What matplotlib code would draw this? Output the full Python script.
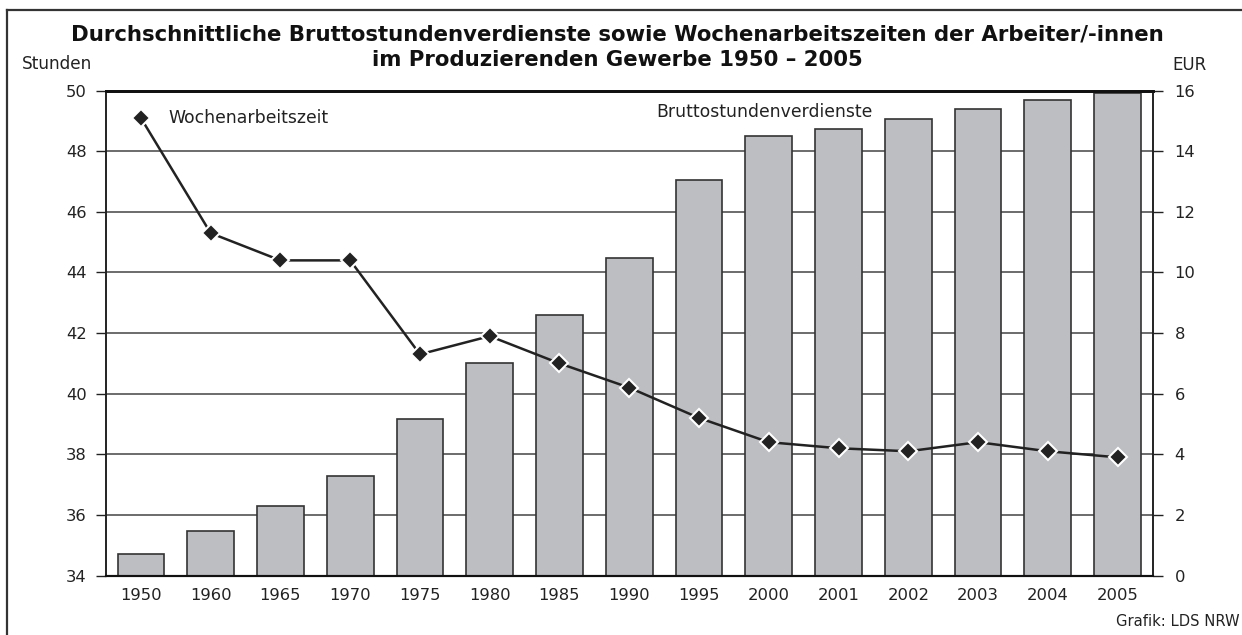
import matplotlib
matplotlib.use("Agg")
import matplotlib.pyplot as plt
from matplotlib.lines import Line2D

plt.rcParams['font.family'] = ['DejaVu Sans']

# Data
years = ['1950', '1960', '1965', '1970', '1975', '1980', '1985', '1990',
         '1995', '2000', '2001', '2002', '2003', '2004', '2005']
verdienst_eur = [0.72, 1.47, 2.31, 3.29, 5.18, 7.02, 8.59, 10.49,
                 13.04, 14.49, 14.72, 15.06, 15.40, 15.70, 15.91]
wochenstunden = [49.1, 45.3, 44.4, 44.4, 41.3, 41.9, 41.0, 40.2,
                 39.2, 38.4, 38.2, 38.1, 38.4, 38.1, 37.9]
eur_ticks = [0, 2, 4, 6, 8, 10, 12, 14, 16]
std_ticks = [34, 36, 38, 40, 42, 44, 46, 48, 50]
title_lines = ['Durchschnittliche Bruttostundenverdienste sowie Wochenarbeitszeiten der Arbeiter/-innen',
               'im Produzierenden Gewerbe 1950 – 2005']

fig = plt.figure(figsize=(12.42, 6.35), dpi=100)
ax = fig.add_axes([106 / 1242, 1 - 575.5 / 635, (1152.5 - 106) / 1242, (575.5 - 90.7) / 635])

x = list(range(len(years)))

# Bars: hourly earnings (EUR, right axis)
ax.bar(x, verdienst_eur, width=0.67, color='#bdbec2', edgecolor='#333333', linewidth=1.2, zorder=2)
ax.set_ylim(0, 16)
ax.set_xlim(-0.5, len(years) - 0.5)
ax.set_axisbelow(True)
ax.grid(axis='y', color='#444444', linewidth=1.1, zorder=0)
ax.set_xticks(x)
ax.set_xticklabels(years)
ax.tick_params(axis='x', length=0, pad=9, labelsize=11.8, colors='#222222')

# Line: weekly working hours (left axis)
ax2 = ax.twinx()
ax2.plot(x, wochenstunden, color='#222222', linewidth=1.8, marker='D', markersize=9,
         markerfacecolor='#222222', markeredgecolor='white', markeredgewidth=1.5,
         zorder=5, clip_on=False)
ax2.set_ylim(34, 50)
ax2.set_yticks(std_ticks)
ax2.yaxis.tick_left()
ax2.tick_params(axis='y', direction='out', length=7, width=1, pad=7, labelsize=11.8,
                colors='#222222')

ax.set_yticks(eur_ticks)
ax.yaxis.tick_right()
ax.tick_params(axis='y', direction='out', length=7, width=1, pad=9, labelsize=11.8,
               colors='#222222')

for a in (ax, ax2):
    a.spines['top'].set_linewidth(2)
    a.spines['top'].set_color('#111111')
    a.spines['bottom'].set_linewidth(1.5)
    a.spines['bottom'].set_color('#111111')
    a.spines['left'].set_linewidth(1.2)
    a.spines['left'].set_color('#222222')
    a.spines['right'].set_linewidth(1.2)
    a.spines['right'].set_color('#222222')

# Series labels
ax2.text(0.39, 49.1, 'Wochenarbeitszeit', fontsize=12.4, va='center', ha='left', color='#222222')
ax.text(10.49, 15.29, 'Bruttostundenverdienste', fontsize=12.4, va='center', ha='right', color='#222222')

# Title (two separate lines) and axis units
fig.text(617 / 1242, 1 - 41 / 635, title_lines[0], ha='center', va='baseline',
         fontsize=15.3, fontweight='bold', color='#111111')
fig.text(617 / 1242, 1 - 66 / 635, title_lines[1], ha='center', va='baseline',
         fontsize=15.3, fontweight='bold', color='#111111')
fig.text(22 / 1242, 1 - 64 / 635, 'Stunden', fontsize=12.2, ha='left', va='center', color='#222222')
fig.text(1172 / 1242, 1 - 65 / 635, 'EUR', fontsize=12, ha='left', va='center', color='#222222')
fig.text(1240 / 1242, 1 - 622 / 635, 'Grafik: LDS NRW', fontsize=10.6, ha='right', va='center',
         color='#222222')

# Frame around the figure (top and left edges visible)
fig.add_artist(Line2D([7 / 1242, 1], [1 - 10 / 635, 1 - 10 / 635], transform=fig.transFigure,
                      color='#333333', linewidth=1.6))
fig.add_artist(Line2D([7 / 1242, 7 / 1242], [0, 1 - 10 / 635], transform=fig.transFigure,
                      color='#333333', linewidth=1.6))

fig.savefig('out.png', dpi=100)
